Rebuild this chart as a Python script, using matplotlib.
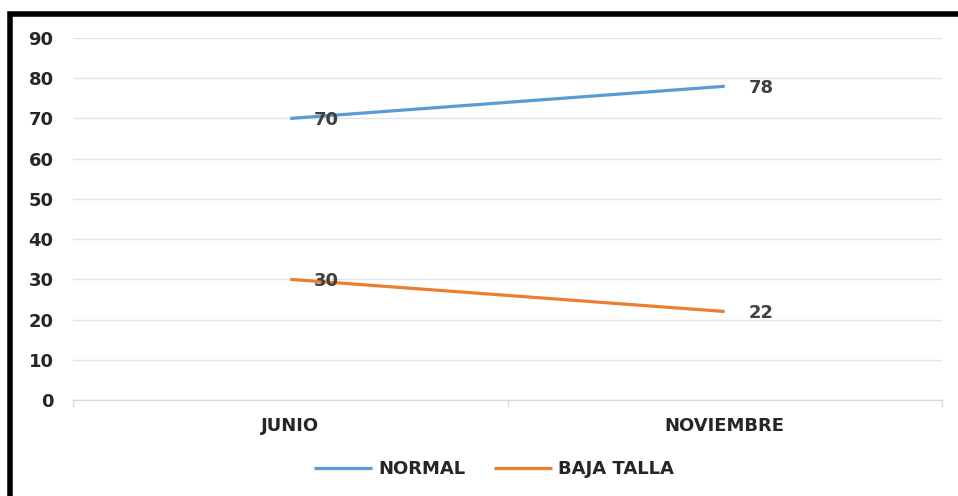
import matplotlib.pyplot as plt
from matplotlib.patches import Rectangle

# Datos
meses = ['JUNIO', 'NOVIEMBRE']
normal = [70, 78]
baja_talla = [30, 22]
yticks = list(range(0, 100, 10))

azul = '#5B9BD5'
naranja = '#ED7D31'
texto = '#262626'

plt.rcParams['font.family'] = 'DejaVu Sans'
plt.rcParams['font.weight'] = 'bold'

fig = plt.figure(figsize=(9.58, 4.96), dpi=100)
ax = fig.add_axes([73 / 958, 96 / 496, 869 / 958, 362 / 496])

x = list(range(len(meses)))
ax.plot(x, normal, color=azul, linewidth=2.3, label='NORMAL', solid_capstyle='butt')
ax.plot(x, baja_talla, color=naranja, linewidth=2.3, label='BAJA TALLA', solid_capstyle='butt')

# Etiquetas de valor a la derecha de cada punto
for serie in (normal, baja_talla):
    for xi, v in zip(x, serie):
        ax.annotate(str(v), (xi, v), xytext=(17, -1), textcoords='offset points',
                    ha='left', va='center', fontsize=13, fontweight='bold', color='#404040')

ax.set_xlim(-0.5, 1.5)
ax.set_ylim(0, 90)
ax.set_yticks(yticks)
ax.set_xticks(x)
ax.set_xticklabels(meses)
ax.set_xticks([-0.5, 0.5, 1.5], minor=True)

ax.grid(axis='y', color='#E3E3E3', linewidth=1)
ax.set_axisbelow(True)
for s in ('top', 'right', 'left'):
    ax.spines[s].set_visible(False)
ax.spines['bottom'].set_color('#D9D9D9')
ax.spines['bottom'].set_linewidth(1)

ax.tick_params(axis='y', length=0, pad=14, labelsize=13, labelcolor=texto)
ax.tick_params(axis='x', which='major', length=0, pad=12, labelsize=13, labelcolor=texto)
ax.tick_params(axis='x', which='minor', length=5, color='#D9D9D9', width=1)
for lbl in ax.get_xticklabels() + ax.get_yticklabels():
    lbl.set_fontweight('bold')

leg = fig.legend(loc='center', bbox_to_anchor=(494 / 958, 1 - 469 / 496), ncol=2,
                 frameon=False, fontsize=13, handlelength=3.2, handletextpad=0.35,
                 columnspacing=1.6)
for t in leg.get_texts():
    t.set_color(texto)
    t.set_fontweight('bold')

# Marco negro del grafico
fig.patches.append(Rectangle((9.5 / 958, -0.1), 1.2, 1.1 - 14 / 496, transform=fig.transFigure,
                             fill=False, edgecolor='black', linewidth=4))

fig.savefig('out.png', dpi=100)
